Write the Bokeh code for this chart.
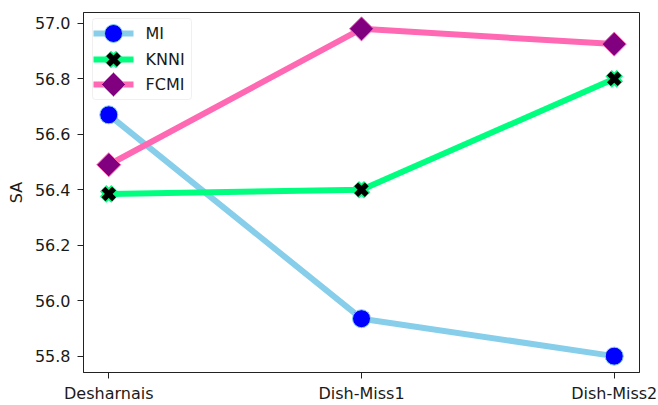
import numpy as np
from bokeh.plotting import figure
from bokeh.models import Range1d, FixedTicker, NumeralTickFormatter, BoxAnnotation
from bokeh.core.properties import value
from bokeh.embed import file_html
from bokeh.resources import INLINE

categories = ["Desharnais", "Dish-Miss1", "Dish-Miss2"]
series = ["MI", "KNNI", "FCMI"]
mi = [56.67, 55.935, 55.80]
knni = [56.385, 56.40, 56.80]
fcmi = [56.49, 56.98, 56.925]
y_ticks = [55.8, 56.0, 56.2, 56.4, 56.6, 56.8, 57.0]

xs = list(range(len(categories)))
FONT = "DejaVu Sans"
FS = "16px"
TXT = "#1a1a1a"
LW = 6

FW, FH = 556, 360
p = figure(frame_width=FW, frame_height=FH, output_backend="svg", toolbar_location=None,
           x_range=Range1d(-0.1, 2.1), y_range=Range1d(55.741, 57.039),
           min_border_left=83, min_border_right=19, min_border_top=12, min_border_bottom=33)
p.grid.visible = False
p.outline_line_color = "#222222"
p.outline_line_width = 1
p.background_fill_color = "white"
p.border_fill_color = "white"

for ax in (p.xaxis[0], p.yaxis[0]):
    ax.major_tick_out = 6
    ax.major_tick_in = 0
    ax.minor_tick_out = 0
    ax.minor_tick_in = 0
    ax.axis_line_color = "#222222"
    ax.major_tick_line_color = "#222222"
    ax.major_label_text_font = FONT
    ax.major_label_text_font_size = FS
    ax.major_label_text_color = TXT
p.xaxis.major_label_standoff = 5
p.yaxis.major_label_standoff = 7

p.xaxis.ticker = FixedTicker(ticks=xs)
p.xaxis.major_label_overrides = {i: c for i, c in enumerate(categories)}
p.yaxis.ticker = FixedTicker(ticks=y_ticks)
p.yaxis.formatter = NumeralTickFormatter(format="0.0")
p.yaxis.axis_label = "SA"
p.yaxis.axis_label_text_font = FONT
p.yaxis.axis_label_text_font_size = FS
p.yaxis.axis_label_text_font_style = "normal"
p.yaxis.axis_label_text_color = TXT
p.yaxis.axis_label_standoff = 6

COLORS = {"MI": "#87CEEB", "KNNI": "#00FF7F", "FCMI": "#FF69B4"}


def markers(name, x, y, **kw):
    if name == "MI":
        p.scatter(x, y, marker="circle", size=18, fill_color="blue", line_color=COLORS[name],
                  line_width=1, **kw)
    elif name == "KNNI":
        p.scatter(x, y, marker="x", size=16, line_color=COLORS[name], line_width=9, **kw)
        p.scatter(x, y, marker="x", size=15, line_color="black", line_width=5.5, **kw)
    else:
        p.scatter(x, y, marker="square", angle=np.pi / 4, size=17, fill_color="purple",
                  line_color=COLORS[name], line_width=1, **kw)


for name, vals in zip(series, [mi, knni, fcmi]):
    p.line(xs, vals, line_color=COLORS[name], line_width=LW)
    markers(name, xs, vals)

# legend drawn in frame pixel space (origin at top-left of the frame)
p.extra_x_ranges["leg"] = Range1d(0, FW)
p.extra_y_ranges["leg"] = Range1d(FH, 0)
box = BoxAnnotation(left=9, right=108, top=6, bottom=87, x_range_name="leg", y_range_name="leg",
                    fill_color="white", fill_alpha=0.8, line_color="#cccccc", line_width=1,
                    border_radius=3, level="underlay")
p.add_layout(box)
rows = [21, 47, 72]
for name, r in zip(series, rows):
    p.line([10, 50], [r, r], line_color=COLORS[name], line_width=LW,
           x_range_name="leg", y_range_name="leg")
    markers(name, [30], [r], x_range_name="leg", y_range_name="leg")
p.text(x=[62] * 3, y=rows, text=series, text_font=value(FONT), text_font_size=FS,
       text_color=TXT, text_baseline="middle", text_align="left",
       x_range_name="leg", y_range_name="leg")

open("out.html", "w").write(file_html(p, INLINE))
